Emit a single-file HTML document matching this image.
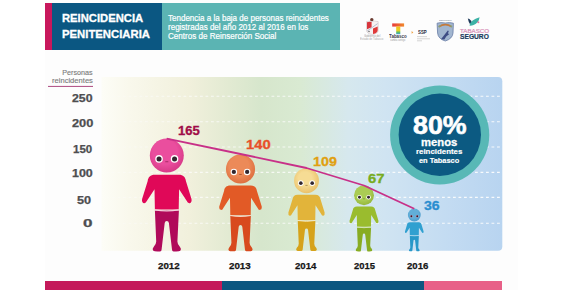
<!DOCTYPE html>
<html><head><meta charset="utf-8">
<style>
html,body{margin:0;padding:0;width:570px;height:290px;overflow:hidden;background:#fff;}
body{position:relative;font-family:"Liberation Sans",sans-serif;}
.a{position:absolute;}
.t{position:absolute;white-space:nowrap;line-height:1;}
</style></head><body>
<svg class="a" style="left:0;top:0" width="570" height="290" viewBox="0 0 570 290">
<defs>
<linearGradient id="bg" gradientUnits="userSpaceOnUse" x1="101" y1="0" x2="502" y2="0">
<stop offset="0" stop-color="#fdfdf7"/>
<stop offset="0.07" stop-color="#f9f8ec"/>
<stop offset="0.22" stop-color="#f1f0dc"/>
<stop offset="0.32" stop-color="#e2ead2"/>
<stop offset="0.4" stop-color="#d6e6cc"/>
<stop offset="0.496" stop-color="#d9ead2"/>
<stop offset="0.616" stop-color="#d6e8ee"/>
<stop offset="0.708" stop-color="#d0e4f2"/>
<stop offset="0.853" stop-color="#c4dcf2"/>
<stop offset="1" stop-color="#b8d4f0"/>
</linearGradient>
<linearGradient id="dg" gradientUnits="userSpaceOnUse" x1="101" y1="0" x2="502" y2="0">
<stop offset="0" stop-color="#fff" stop-opacity="0.2"/>
<stop offset="0.2" stop-color="#fff" stop-opacity="0.8"/>
<stop offset="1" stop-color="#fff" stop-opacity="1"/>
</linearGradient>
<radialGradient id="h1" cx="0.45" cy="0.4" r="0.6"><stop offset="0.6" stop-color="#ea4e9e"/><stop offset="1" stop-color="#d83a88"/></radialGradient>
<radialGradient id="h2" cx="0.45" cy="0.4" r="0.6"><stop offset="0.55" stop-color="#ec8a58"/><stop offset="1" stop-color="#de7040"/></radialGradient>
<radialGradient id="h3" cx="0.45" cy="0.42" r="0.6"><stop offset="0.45" stop-color="#f6dc94"/><stop offset="1" stop-color="#eac068"/></radialGradient>
<radialGradient id="h4" cx="0.45" cy="0.4" r="0.6"><stop offset="0.6" stop-color="#aacc54"/><stop offset="1" stop-color="#96b83c"/></radialGradient>
<radialGradient id="h5" cx="0.45" cy="0.4" r="0.6"><stop offset="0.6" stop-color="#62aed8"/><stop offset="1" stop-color="#4c9ccc"/></radialGradient>
<g id="shirt"><path d="M -12,-75.7 L 12,-75.7 C 16.5,-75.7 18.6,-73.2 19.1,-69.6 L 24.7,-51.5 Q 25.3,-47.9 22.9,-47.3 Q 20.9,-46.9 20,-49.4 L 12.3,-61.3 L 11.9,-41 L -11.9,-41 L -12.3,-61.3 L -20,-49.4 Q -20.9,-46.9 -22.9,-47.3 Q -25.3,-47.9 -24.7,-51.5 L -19.1,-69.6 C -18.6,-73.2 -16.5,-75.7 -12,-75.7 Z"/></g>
<g id="pants"><path d="M -11.9,-40 L 12.1,-40 L 10.6,-9 Q 10.6,-6 13.2,-3.5 Q 15,-1.5 13.5,0.3 Q 12.5,1 9.5,1 L 6.8,1 Q 5.2,1 5.2,-1 L 2.1,-27.6 Q 1.8,-29.6 0,-29.6 Q -1.8,-29.6 -2.1,-27.6 L -5.2,-1 Q -5.2,1 -6.8,1 L -9.5,1 Q -12.5,1 -13.5,0.3 Q -15,-1.5 -13.2,-3.5 Q -10.6,-6 -10.6,-9 Z"/></g>
<g id="face">
<circle cx="-7.75" cy="3.4" r="3.8" fill="#fff"/><circle cx="7.75" cy="3.4" r="3.8" fill="#fff"/>
<circle cx="-7.75" cy="3.4" r="2.5" fill="#32262e"/><circle cx="7.75" cy="3.4" r="2.5" fill="#32262e"/>
</g>
</defs>
<rect x="45" y="0" width="473" height="290" fill="#fdfdfd"/>
<!-- header -->
<rect x="45" y="3" width="7" height="47" fill="#c8185c"/>
<rect x="52" y="3" width="110" height="47" fill="#0b5782"/>
<rect x="162" y="3" width="178" height="47" fill="#5bb4b3"/>
<!-- chart panel -->
<path d="M101.5,77 H498 Q502.3,77 502.3,81.3 V246.5 Q502.3,250.8 498,250.8 H101.5 Z" fill="url(#bg)"/>
<g stroke="url(#dg)" stroke-width="1.1" stroke-dasharray="2.8 2.7" opacity="0.9">
<line x1="101" y1="96.2" x2="502" y2="96.2"/>
<line x1="101" y1="121.7" x2="502" y2="121.7"/>
<line x1="101" y1="147" x2="502" y2="147"/>
<line x1="101" y1="172.4" x2="502" y2="172.4"/>
<line x1="101" y1="197.4" x2="502" y2="197.4"/>
<line x1="101" y1="223.2" x2="502" y2="223.2"/>
</g>
<!-- axis label underline -->
<rect x="48" y="85.9" width="45" height="1.1" fill="#b45a8c"/>
<!-- big circle -->
<circle cx="439.7" cy="135" r="49.6" fill="#58b8b6"/>
<circle cx="439.8" cy="134.8" r="41.2" fill="#0c5a82"/>
<!-- figures -->
<g transform="translate(166.8,250.5)">
<use href="#pants" fill="#b00a5a"/><use href="#shirt" fill="#e00858"/>
<path d="M-11.9,-40.6 Q0,-38.4 11.9,-40.6" stroke="#f4d0dc" stroke-width="1.2" fill="none"/>
<circle cx="0" cy="-95" r="17" fill="url(#h1)"/>
<g transform="translate(0,-95)"><use href="#face"/><rect x="-1.5" y="5.8" width="3" height="0.9" fill="#a02a62"/></g>
</g>
<g transform="translate(240.5,250.4) scale(0.857)">
<use href="#pants" fill="#d84a1e"/><use href="#shirt" fill="#e25a26"/>
<path d="M-11.9,-40.6 Q0,-38.4 11.9,-40.6" stroke="#f6d8c8" stroke-width="1.2" fill="none"/>
<circle cx="0" cy="-95" r="17" fill="url(#h2)"/>
<g transform="translate(0,-95)"><use href="#face"/><rect x="-1.5" y="5.8" width="3" height="0.9" fill="#a04a2a"/></g>
</g>
<g transform="translate(306.5,250.3) scale(0.733)">
<use href="#pants" fill="#d6a21a"/><use href="#shirt" fill="#e2b43a"/>
<path d="M-11.9,-40.6 Q0,-38.4 11.9,-40.6" stroke="#f6ecc8" stroke-width="1.2" fill="none"/>
<circle cx="0" cy="-95" r="17" fill="url(#h3)"/>
<g transform="translate(0,-95)"><use href="#face"/><rect x="-1.5" y="5.8" width="3" height="0.9" fill="#8a6a3a"/></g>
</g>
<g transform="translate(364,250.8) scale(0.585)">
<use href="#pants" fill="#88ac22"/><use href="#shirt" fill="#9abc2e"/>
<path d="M-11.9,-40.6 Q0,-38.4 11.9,-40.6" stroke="#e4f0c8" stroke-width="1.2" fill="none"/>
<circle cx="0" cy="-95" r="17" fill="url(#h4)"/>
<g transform="translate(0,-95)"><use href="#face"/><rect x="-1.5" y="5.8" width="3" height="0.9" fill="#5a7a2a"/></g>
</g>
<g transform="translate(414.3,250.8) scale(0.377)">
<use href="#pants" fill="#2898c8"/><use href="#shirt" fill="#30a0d0"/>
<path d="M-11.9,-40.6 Q0,-38.4 11.9,-40.6" stroke="#c8e8f4" stroke-width="1.2" fill="none"/>
<circle cx="0" cy="-95" r="17" fill="url(#h5)"/>
<g transform="translate(0,-95)"><circle cx="-7.75" cy="3.4" r="3.6" fill="#c8a0b8"/><circle cx="7.75" cy="3.4" r="3.6" fill="#c8a0b8"/><circle cx="-7.75" cy="3.4" r="2.5" fill="#3a1424"/><circle cx="7.75" cy="3.4" r="2.5" fill="#3a1424"/></g>
</g>
<!-- trend line -->
<polyline points="166.7,138.7 240.5,154 306.5,168 364,185.5 414.3,208.8" fill="none" stroke="#c83088" stroke-width="1.8" stroke-linejoin="round"/>

<!-- logos -->
<g>
<circle cx="371.8" cy="19.8" r="1.7" fill="#6a3a30"/>
<path d="M366.5,21.6 Q369,20.8 371.8,21.4 Q374.6,20.8 378.2,21.6 V30 Q378.2,33.8 372.3,34.6 Q366.5,33.8 366.5,30 Z" fill="#f6f2f2" stroke="#c8b8bc" stroke-width="0.5"/>
<path d="M367,22.2 Q369,21.6 371.6,22 V27.2 L367,29.2 Z" fill="#d8353c"/>
<path d="M373,28.4 L377.7,26.4 V30 Q377.7,33.2 373,34 Z" fill="#e03a3a"/>
<path d="M367.2,31 L377.6,23.6" stroke="#9aa8c0" stroke-width="0.7"/>
<circle cx="369" cy="31.5" r="0.7" fill="#555"/>
<!-- tabasco T -->
<defs><linearGradient id="tg" x1="0" y1="0" x2="1" y2="0"><stop offset="0" stop-color="#e83a3a"/><stop offset="1" stop-color="#f08a2a"/></linearGradient>
<linearGradient id="ts" x1="0" y1="0" x2="0" y2="1"><stop offset="0" stop-color="#f2c020"/><stop offset="0.5" stop-color="#e8d020"/><stop offset="0.75" stop-color="#60c060"/><stop offset="1" stop-color="#3a9ad8"/></linearGradient></defs>
<rect x="392.2" y="23.4" width="11.9" height="3.2" fill="url(#tg)"/>
<rect x="396.2" y="26.5" width="4.1" height="7.7" fill="url(#ts)"/>
<path d="M411.6,31.1 L413.3,32.4 L411.6,33.7 Z" fill="#f0a040"/>
<g fill="#c4c4c4"><rect x="417" y="36.4" width="10" height="0.7"/><rect x="417" y="38.5" width="13" height="0.7"/><rect x="417" y="40.5" width="5" height="0.7"/></g>
<!-- seguro shield -->
<path d="M437.1,23.2 Q441,22.1 445.3,23 Q449.6,22.1 453.4,23.2 L453,33 Q452.5,38.8 445.3,41 Q438.1,38.8 437.6,33 Z" fill="#a2b6d0" stroke="#6a7ea6" stroke-width="0.8"/>
<path d="M438.8,26.8 Q445.3,22.4 451.8,26.8" stroke="#c47a3c" stroke-width="1.7" fill="none"/>
<path d="M438.6,27 Q439.6,26 440.6,25.5" stroke="#7aa880" stroke-width="1.2" fill="none"/>
<path d="M452,27 Q451,26 450,25.5" stroke="#7aa880" stroke-width="1.2" fill="none"/>
<path d="M441,39.2 L447.8,30.4 L448.8,31 L447.9,33.6 L449.4,34 L446.2,36.4 L444.4,39.4 Z" fill="#3e4c84"/>
<!-- tabasco seguro bird -->
<path d="M467.8,18.5 Q471.2,19.2 472.4,23.8 L470.4,24.8 Q468.4,21.8 467.8,18.5 Z" fill="#1e3a5a"/>
<path d="M469.4,25.5 Q470.8,19.8 479.6,17.3 Q478.8,23.6 473,25.3 Q471,25.9 469.4,25.5 Z" fill="#3db2a6"/>
<circle cx="478.3" cy="22.3" r="1" fill="#e07aa0"/>
</g>
<!-- bottom bars -->
<rect x="45" y="281" width="177" height="9" fill="#c41a5a"/>
<rect x="222" y="281" width="202" height="9" fill="#0c5680"/>
<rect x="424" y="281" width="78" height="9" fill="#e86088"/>
</svg>

<!-- TEXT START -->
<div class="t" style="left:61.97px;top:12.71px;font-size:10.85px;line-height:10.85px;color:#fff;font-weight:bold;transform:scaleX(1.036);transform-origin:0 0;-webkit-text-stroke:0.3px #fff;">REINCIDENCIA</div>
<div class="t" style="left:61.96px;top:28.91px;font-size:10.85px;line-height:10.85px;color:#fff;font-weight:bold;transform:scaleX(1.043);transform-origin:0 0;-webkit-text-stroke:0.3px #fff;">PENITENCIARIA</div>
<div class="t" style="left:168.34px;top:13.70px;font-size:8.50px;line-height:8.50px;color:#fff;transform:scaleX(0.943);transform-origin:0 0;-webkit-text-stroke:0.2px #fff;">Tendencia a la baja de personas reincidentes</div>
<div class="t" style="left:167.98px;top:22.80px;font-size:8.50px;line-height:8.50px;color:#fff;transform:scaleX(0.943);transform-origin:0 0;-webkit-text-stroke:0.2px #fff;">registradas del año 2012 al 2016 en los</div>
<div class="t" style="left:168.10px;top:32.40px;font-size:8.50px;line-height:8.50px;color:#fff;transform:scaleX(0.948);transform-origin:0 0;-webkit-text-stroke:0.2px #fff;">Centros de Reinserción Social</div>
<div class="t" style="left:62.32px;top:68.60px;font-size:7.20px;line-height:7.20px;color:#7a7a7a;-webkit-text-stroke:0.12px #7a7a7a;">Personas</div>
<div class="t" style="left:51.81px;top:77.40px;font-size:7.20px;line-height:7.20px;color:#7a7a7a;transform:scaleX(1.055);transform-origin:0 0;-webkit-text-stroke:0.12px #7a7a7a;">reincidentes</div>
<div class="t" style="left:72.27px;top:93.71px;font-size:10.14px;line-height:10.14px;color:#4e4e50;font-weight:bold;transform:scaleX(1.216);transform-origin:0 0;-webkit-text-stroke:0.25px #4e4e50;">250</div>
<div class="t" style="left:72.25px;top:118.81px;font-size:10.14px;line-height:10.14px;color:#4e4e50;font-weight:bold;transform:scaleX(1.265);transform-origin:0 0;-webkit-text-stroke:0.25px #4e4e50;">200</div>
<div class="t" style="left:72.55px;top:143.81px;font-size:10.85px;line-height:10.85px;color:#4e4e50;font-weight:bold;transform:scaleX(1.058);transform-origin:0 0;-webkit-text-stroke:0.25px #4e4e50;">150</div>
<div class="t" style="left:71.89px;top:168.83px;font-size:10.00px;line-height:10.00px;color:#4e4e50;font-weight:bold;transform:scaleX(1.244);transform-origin:0 0;-webkit-text-stroke:0.25px #4e4e50;">100</div>
<div class="t" style="left:76.92px;top:195.67px;font-size:10.42px;line-height:10.42px;color:#4e4e50;font-weight:bold;transform:scaleX(1.218);transform-origin:0 0;-webkit-text-stroke:0.25px #4e4e50;">50</div>
<div class="t" style="left:82.72px;top:218.11px;font-size:10.85px;line-height:10.85px;color:#4e4e50;font-weight:bold;transform:scaleX(1.572);transform-origin:0 0;-webkit-text-stroke:0.25px #4e4e50;">0</div>
<div class="t" style="left:178.35px;top:124.72px;font-size:12.11px;line-height:12.11px;color:#a00c48;font-weight:bold;transform:scaleX(1.080);transform-origin:0 0;-webkit-text-stroke:0.3px #a00c48;">165</div>
<div class="t" style="left:246.44px;top:139.02px;font-size:12.11px;line-height:12.11px;color:#e8502a;font-weight:bold;transform:scaleX(1.222);transform-origin:0 0;-webkit-text-stroke:0.3px #e8502a;">140</div>
<div class="t" style="left:313.17px;top:155.92px;font-size:12.82px;line-height:12.82px;color:#e0a010;font-weight:bold;transform:scaleX(1.117);transform-origin:0 0;-webkit-text-stroke:0.3px #e0a010;">109</div>
<div class="t" style="left:367.98px;top:173.06px;font-size:12.54px;line-height:12.54px;color:#78ac1e;font-weight:bold;transform:scaleX(1.185);transform-origin:0 0;-webkit-text-stroke:0.3px #78ac1e;">67</div>
<div class="t" style="left:423.65px;top:200.22px;font-size:12.11px;line-height:12.11px;color:#2a8ed0;font-weight:bold;transform:scaleX(1.164);transform-origin:0 0;-webkit-text-stroke:0.3px #2a8ed0;">36</div>
<div class="t" style="left:413.40px;top:112.66px;font-size:25.49px;line-height:25.49px;color:#fff;font-weight:bold;transform:scaleX(1.051);transform-origin:0 0;-webkit-text-stroke:0.6px #fff;">80%</div>
<div class="t" style="left:421.17px;top:137.22px;font-size:11.20px;line-height:11.20px;color:#fff;font-weight:bold;transform:scaleX(1.006);transform-origin:0 0;-webkit-text-stroke:0.3px #fff;">menos</div>
<div class="t" style="left:416.49px;top:147.87px;font-size:7.60px;line-height:7.60px;color:#fff;font-weight:bold;transform:scaleX(1.035);transform-origin:0 0;-webkit-text-stroke:0.15px #fff;">reincidentes</div>
<div class="t" style="left:418.70px;top:156.87px;font-size:7.60px;line-height:7.60px;color:#fff;font-weight:bold;transform:scaleX(0.975);transform-origin:0 0;-webkit-text-stroke:0.15px #fff;">en Tabasco</div>
<div class="t" style="left:157.76px;top:261.25px;font-size:9.86px;line-height:9.86px;color:#151515;font-weight:bold;transform:scaleX(0.991);transform-origin:0 0;-webkit-text-stroke:0.25px #151515;">2012</div>
<div class="t" style="left:229.46px;top:261.25px;font-size:9.86px;line-height:9.86px;color:#151515;font-weight:bold;transform:scaleX(0.993);transform-origin:0 0;-webkit-text-stroke:0.25px #151515;">2013</div>
<div class="t" style="left:295.16px;top:261.25px;font-size:9.86px;line-height:9.86px;color:#151515;font-weight:bold;transform:scaleX(0.979);transform-origin:0 0;-webkit-text-stroke:0.25px #151515;">2014</div>
<div class="t" style="left:353.77px;top:261.25px;font-size:9.86px;line-height:9.86px;color:#151515;font-weight:bold;transform:scaleX(0.956);transform-origin:0 0;-webkit-text-stroke:0.25px #151515;">2015</div>
<div class="t" style="left:406.56px;top:261.25px;font-size:9.86px;line-height:9.86px;color:#151515;font-weight:bold;transform:scaleX(0.974);transform-origin:0 0;-webkit-text-stroke:0.25px #151515;">2016</div>
<div class="t" style="left:389.06px;top:33.83px;font-size:5.40px;line-height:5.40px;color:#3a3a4a;font-weight:bold;transform:scaleX(0.829);transform-origin:0 0;">Tabasco</div>
<div class="t" style="left:389.90px;top:38.83px;font-size:2.80px;line-height:2.80px;color:#999;transform:scaleX(0.807);transform-origin:0 0;">cambia contigo</div>
<div class="t" style="left:363.86px;top:35.06px;font-size:3.00px;line-height:3.00px;color:#999;transform:scaleX(0.951);transform-origin:0 0;">Gobierno del</div>
<div class="t" style="left:438.81px;top:19.21px;font-size:2.00px;line-height:2.00px;color:#8890a0;font-weight:bold;transform:scaleX(1.479);transform-origin:0 0;">SEGURO</div>
<div class="t" style="left:360.28px;top:38.06px;font-size:3.00px;line-height:3.00px;color:#aaa;transform:scaleX(0.917);transform-origin:0 0;">Estado de Tabasco</div>
<div class="t" style="left:417.87px;top:29.73px;font-size:5.92px;line-height:5.92px;color:#2a2a3a;font-weight:bold;transform:scaleX(0.741);transform-origin:0 0;">SSP</div>
<div class="t" style="left:460.28px;top:28.75px;font-size:5.77px;line-height:5.77px;color:#d890b8;transform:scaleX(1.072);transform-origin:0 0;-webkit-text-stroke:0.2px #d890b8;">TABASCO</div>
<div class="t" style="left:460.00px;top:34.25px;font-size:7.18px;line-height:7.18px;color:#1a3a5c;font-weight:bold;transform:scaleX(0.928);transform-origin:0 0;-webkit-text-stroke:0.2px #1a3a5c;">SEGURO</div>
</body></html>
